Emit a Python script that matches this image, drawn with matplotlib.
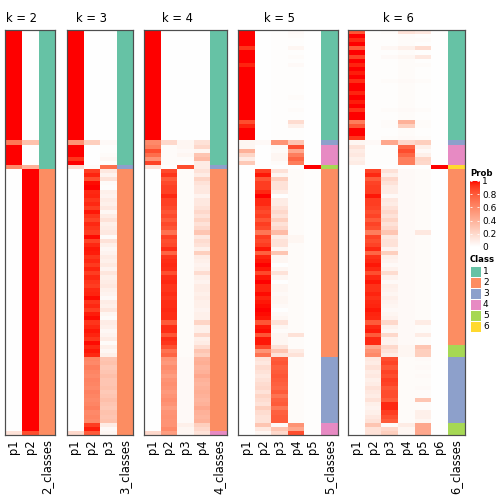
import numpy as np
import matplotlib
matplotlib.use("Agg")
import matplotlib.pyplot as plt
from matplotlib.colors import ListedColormap
from matplotlib.patches import Rectangle

plt.rcParams['font.family'] = ['DejaVu Sans']

# ---- membership probabilities, 99 samples, rows in plotted order ----
# k = 2
k2_p1 = [1.0]*27 + [0.68] + [1.0]*5 + [0.6] + [0.0]*64 + [0.15]
k2_p2 = [0.0]*27 + [0.32] + [0.0]*5 + [0.4] + [1.0]*64 + [0.85]
k2_cls = [1]*34 + [2]*65

# k = 3
k3_p1 = [1.0]*27 + [0.55] + [1.0, 1.0, 1.0, 0.92, 1.0] + [0.18] + [0.0]*64 + [0.2]
k3_p2 = ([0.0]*27 + [0.25] + [0.0]*5 + [0.02]
         + [0.9, 0.96, 0.85, 0.99, 1.0, 0.95, 0.96, 0.92, 0.95, 0.9, 0.98, 0.92, 0.88, 0.95, 0.92, 0.9,
            0.99, 0.88, 0.95, 0.98, 0.97, 0.92, 0.95, 0.91, 0.96, 0.9, 0.95, 0.92, 0.9, 0.95, 0.96, 0.99,
            0.92, 0.95, 0.9, 0.97, 0.99, 0.92, 0.95, 0.98, 0.96, 0.92, 0.99, 0.95, 0.98, 0.95]
         + [0.62, 0.6, 0.65, 0.62, 0.6, 0.63, 0.62, 0.6, 0.64, 0.62, 0.6, 0.62, 0.65, 0.6, 0.62, 0.6]
         + [0.9, 0.97, 0.8])
k3_p3 = ([0.0]*27 + [0.03] + [0.01, 0.01, 0.02, 0.04, 0.01] + [0.72]
         + [0.12, 0.06, 0.15, 0.02, 0.01, 0.08, 0.06, 0.1, 0.08, 0.12, 0.04, 0.1, 0.15, 0.08, 0.1, 0.12,
            0.02, 0.15, 0.08, 0.04, 0.06, 0.1, 0.08, 0.11, 0.06, 0.13, 0.08, 0.1, 0.12, 0.08, 0.06, 0.03,
            0.1, 0.08, 0.13, 0.05, 0.02, 0.1, 0.08, 0.04, 0.06, 0.1, 0.02, 0.08, 0.04, 0.08]
         + [0.3, 0.32, 0.28, 0.3, 0.33, 0.3, 0.3, 0.32, 0.28, 0.3, 0.33, 0.3, 0.28, 0.32, 0.3, 0.32]
         + [0.1, 0.03, 0.05])
k3_cls = [1]*33 + [3] + [2]*65

# k = 4
k4_p1 = [1.0]*27 + [0.6] + [0.65, 0.85, 0.72, 0.55, 0.88] + [0.15] + [0.0]*64 + [0.2]
k4_p2 = ([0.0]*27 + [0.2] + [0.02]*5 + [0.0]
         + [0.86, 0.92, 0.8, 0.86, 0.89, 0.89, 0.95, 0.89, 0.89, 0.86, 0.82, 0.86, 0.8, 0.86, 0.82, 0.7,
            0.89, 0.84, 0.86, 0.94, 0.76, 0.92, 0.94, 0.95, 0.94, 0.84, 0.94, 0.95, 0.92, 0.92, 0.94, 0.92,
            0.94, 0.94, 0.95, 0.94, 0.94, 0.8, 0.94, 0.94, 0.82, 0.94, 0.92, 0.84, 0.7, 0.76]
         + [0.55, 0.52, 0.58, 0.55, 0.5, 0.55, 0.57, 0.55, 0.52, 0.55, 0.58, 0.55, 0.5, 0.55, 0.56, 0.55]
         + [0.55, 0.6, 0.5])
k4_p3 = ([0.0]*27 + [0.05] + [0.05, 0.03, 0.05, 0.02, 0.01] + [0.85]
         + [0.02]*46 + [0.03]*16 + [0.08, 0.05, 0.05])
k4_p4 = ([0.0]*27 + [0.15] + [0.2, 0.05, 0.3, 0.35, 0.1] + [0.1]
         + [0.15, 0.1, 0.22, 0.15, 0.12, 0.12, 0.06, 0.12, 0.12, 0.15, 0.2, 0.15, 0.22, 0.15, 0.2, 0.3,
            0.12, 0.18, 0.15, 0.08, 0.25, 0.1, 0.08, 0.06, 0.08, 0.18, 0.08, 0.06, 0.1, 0.1, 0.08, 0.1,
            0.08, 0.08, 0.06, 0.08, 0.08, 0.22, 0.08, 0.08, 0.2, 0.08, 0.1, 0.18, 0.3, 0.25]
         + [0.4, 0.42, 0.38, 0.4, 0.45, 0.4, 0.38, 0.4, 0.42, 0.4, 0.38, 0.4, 0.45, 0.4, 0.38, 0.4]
         + [0.25, 0.2, 0.15])
k4_cls = [1]*33 + [3] + [2]*64 + [4]

# k = 5
k5_p1 = ([1.0, 1.0, 1.0, 1.0, 0.92, 1.0, 1.0, 1.0, 0.96, 1.0, 1.0, 1.0, 1.0, 1.0, 1.0, 1.0,
          1.0, 1.0, 1.0, 1.0, 1.0, 1.0, 0.85, 0.96, 1.0, 1.0, 1.0]
         + [0.05] + [0.05, 0.4, 0.22, 0.1, 0.28] + [0.0] + [0.0]*65)
k5_p2 = ([0.0]*27 + [0.03] + [0.0]*5 + [0.0]
         + [0.9, 0.98, 0.82, 0.9, 0.9, 0.95, 1.0, 0.95, 0.95, 0.9, 0.86, 0.9, 0.82, 0.9, 0.86, 0.68,
            0.9, 0.86, 0.9, 0.98, 0.78, 0.96, 0.98, 1.0, 0.98, 0.86, 0.98, 1.0, 0.96, 0.96, 0.99, 0.96,
            0.98, 0.99, 1.0, 0.99, 0.98, 0.82, 0.98, 0.99, 0.82, 0.98, 0.98, 0.86, 0.55, 0.7]
         + [0.15, 0.12, 0.18, 0.15, 0.12, 0.15, 0.18, 0.2, 0.15, 0.22, 0.18, 0.15, 0.25, 0.18, 0.15, 0.15]
         + [0.3, 0.12, 0.05])
k5_p3 = ([0.01]*27 + [0.55] + [0.03, 0.02, 0.05, 0.05, 0.02] + [0.0]
         + [0.15, 0.05, 0.25, 0.15, 0.15, 0.1, 0.0, 0.1, 0.1, 0.15, 0.2, 0.15, 0.25, 0.15, 0.2, 0.35,
            0.1, 0.15, 0.15, 0.05, 0.3, 0.05, 0.05, 0.0, 0.05, 0.15, 0.05, 0.0, 0.05, 0.05, 0.03, 0.05,
            0.05, 0.03, 0.0, 0.03, 0.05, 0.15, 0.05, 0.02, 0.05, 0.05, 0.05, 0.15, 0.3, 0.15]
         + [0.8, 0.82, 0.78, 0.8, 0.82, 0.8, 0.78, 0.75, 0.8, 0.7, 0.78, 0.8, 0.68, 0.78, 0.8, 0.8]
         + [0.03, 0.3, 0.2])
k5_p4 = ([0.03, 0.02, 0.01, 0.01, 0.05, 0.01, 0.02, 0.01, 0.03, 0.01, 0.01, 0.01, 0.01, 0.01, 0.01, 0.01,
          0.02, 0.01, 0.01, 0.02, 0.01, 0.01, 0.18, 0.08, 0.01, 0.01, 0.01]
         + [0.3] + [0.85, 0.45, 0.65, 0.75, 0.65] + [0.0]
         + [0.02]*16 + [0.05, 0.05] + [0.02]*22 + [0.15] + [0.02]*3 + [0.1, 0.15]
         + [0.02]*16 + [0.55, 0.45, 0.85])
k5_p5 = [0.0]*33 + [1.0] + [0.01]*65
k5_cls = [1]*27 + [3] + [4]*5 + [5] + [2]*46 + [3]*16 + [4]*3

# k = 6
k6_p1 = ([0.82, 1.0, 0.95, 1.0, 0.8, 1.0, 0.88, 1.0, 0.96, 1.0, 0.97, 1.0, 0.94, 1.0, 1.0, 0.96,
          1.0, 0.97, 1.0, 0.93, 1.0, 1.0, 0.66, 0.82, 1.0, 1.0, 0.92]
         + [0.05] + [0.15, 0.1, 0.12, 0.08, 0.1] + [0.0] + [0.0]*65)
k6_p2 = ([0.01]*27 + [0.03] + [0.01]*5 + [0.0]
         + [0.88, 0.95, 0.8, 0.88, 0.9, 0.9, 0.98, 0.9, 0.9, 0.88, 0.84, 0.88, 0.8, 0.88, 0.84, 0.65,
            0.88, 0.84, 0.88, 0.95, 0.75, 0.93, 0.95, 0.98, 0.95, 0.84, 0.95, 0.98, 0.93, 0.93, 0.96, 0.93,
            0.95, 0.96, 0.98, 0.96, 0.95, 0.8, 0.95, 0.97, 0.8, 0.95, 0.95]
         + [0.45, 0.55, 0.6]
         + [0.12, 0.1, 0.15, 0.1, 0.12, 0.08, 0.1, 0.15, 0.12, 0.1, 0.15, 0.08, 0.06, 0.08, 0.12, 0.15]
         + [0.3, 0.15, 0.15])
k6_p3 = ([0.02, 0.01, 0.01, 0.01, 0.04, 0.01, 0.03, 0.01, 0.01, 0.01, 0.01, 0.01, 0.02, 0.01, 0.01, 0.01,
          0.01, 0.01, 0.01, 0.02, 0.01, 0.01, 0.02, 0.02, 0.01, 0.01, 0.02]
         + [0.45] + [0.01]*5 + [0.0]
         + [0.15, 0.08, 0.2, 0.15, 0.1, 0.1, 0.03, 0.12, 0.1, 0.15, 0.2, 0.15, 0.22, 0.15, 0.2, 0.3,
            0.12, 0.15, 0.15, 0.06, 0.25, 0.08, 0.06, 0.03, 0.07, 0.18, 0.06, 0.03, 0.08, 0.07, 0.05, 0.08,
            0.06, 0.05, 0.03, 0.05, 0.07, 0.2, 0.07, 0.04, 0.2, 0.07, 0.06]
         + [0.2, 0.15, 0.1]
         + [0.85, 0.88, 0.82, 0.88, 0.85, 0.9, 0.88, 0.82, 0.85, 0.85, 0.8, 0.95, 0.95, 0.9, 0.85, 0.8]
         + [0.02, 0.2, 0.25])
k6_p4 = ([0.15, 0.02, 0.02, 0.02, 0.08, 0.02, 0.05, 0.02, 0.02, 0.02, 0.02, 0.02, 0.03, 0.02, 0.02, 0.02,
          0.02, 0.02, 0.02, 0.03, 0.02, 0.02, 0.4, 0.25, 0.02, 0.02, 0.03]
         + [0.2] + [0.75, 0.85, 0.75, 0.65, 0.65] + [0.0]
         + [0.03]*43 + [0.05]*3 + [0.02]*16 + [0.1, 0.05, 0.05])
k6_p5 = ([0.12, 0.01, 0.02, 0.01, 0.18, 0.01, 0.12, 0.01, 0.02, 0.01, 0.01, 0.01, 0.02, 0.01, 0.01, 0.01,
          0.01, 0.01, 0.01, 0.02, 0.01, 0.01, 0.02, 0.02, 0.01, 0.01, 0.02]
         + [0.25] + [0.08, 0.03, 0.08, 0.22, 0.2] + [0.0]
         + [0.02]*15 + [0.12] + [0.02]*21 + [0.1] + [0.02]*2 + [0.1] + [0.02]*2
         + [0.3, 0.25, 0.25]
         + [0.03, 0.02, 0.03, 0.02, 0.03, 0.02, 0.02, 0.03, 0.02, 0.02, 0.3, 0.02, 0.02, 0.08, 0.08, 0.05]
         + [0.45, 0.45, 0.45])
k6_p6 = [0.0]*33 + [1.0] + [0.0]*65
k6_cls = [1]*27 + [3] + [4]*5 + [6] + [2]*43 + [5]*3 + [3]*16 + [5]*3

class_labels = ['1', '2', '3', '4', '5', '6']
class_colors = ['#66C2A5', '#FC8D62', '#8DA0CB', '#E78AC3', '#A6D854', '#FFD92F']
prob_ticks = [0, 0.2, 0.4, 0.6, 0.8, 1]

panels = [
    (2, [k2_p1, k2_p2], k2_cls),
    (3, [k3_p1, k3_p2, k3_p3], k3_cls),
    (4, [k4_p1, k4_p2, k4_p3, k4_p4], k4_cls),
    (5, [k5_p1, k5_p2, k5_p3, k5_p4, k5_p5], k5_cls),
    (6, [k6_p1, k6_p2, k6_p3, k6_p4, k6_p5, k6_p6], k6_cls),
]
for k, cols, cls in panels:
    lens = [len(c) for c in cols] + [len(cls)]
    if len(set(lens)) != 1:
        print('length mismatch', k, lens)


def white_red_lab(n=256):
    # white -> red interpolated in CIELAB
    t = np.linspace(0, 1, n)[:, None]
    lab = np.array([100.0, 0.0, 0.0]) * (1 - t) + np.array([53.24, 80.09, 67.20]) * t
    L, a, b = lab.T
    fy = (L + 16) / 116
    fx = fy + a / 500
    fz = fy - b / 200

    def finv(f):
        return np.where(f ** 3 > 0.008856, f ** 3, (f - 16 / 116) / 7.787)

    xyz = np.stack([0.95047 * finv(fx), finv(fy), 1.08883 * finv(fz)], 1)
    m = np.array([[3.2406, -1.5372, -0.4986],
                  [-0.9689, 1.8758, 0.0415],
                  [0.0557, -0.2040, 1.0570]])
    rgb = np.clip(xyz @ m.T, 0, 1)
    rgb = np.where(rgb <= 0.0031308, 12.92 * rgb, 1.055 * rgb ** (1 / 2.4) - 0.055)
    return ListedColormap(np.clip(rgb, 0, 1))


prob_cmap = white_red_lab()
class_cmap = ListedColormap(class_colors)

W = H = 504
fig = plt.figure(figsize=(7, 7), dpi=72)


def px_axes(x0, y0, x1, y1):
    return fig.add_axes([x0 / W, 1 - y1 / H, (x1 - x0) / W, (y1 - y0) / H])


panel_left = [5.3, 66.7, 144.0, 238.3, 348.3]
col_w = 16.6
top, bottom = 30, 435

for (k, cols, cls), left in zip(panels, panel_left):
    ax = px_axes(left, top, left + (k + 1) * col_w, bottom)
    prob = np.array(cols).T
    n = prob.shape[0]
    ax.imshow(prob, cmap=prob_cmap, vmin=0, vmax=1, aspect='auto',
              interpolation='nearest', extent=(-0.5, k - 0.5, n - 0.5, -0.5))
    ax.imshow(np.array(cls)[:, None], cmap=class_cmap, vmin=0.5, vmax=6.5, aspect='auto',
              interpolation='nearest', extent=(k - 0.5, k + 0.5, n - 0.5, -0.5))
    ax.set_xlim(-0.5, k + 0.5)
    ax.set_ylim(n - 0.5, -0.5)
    ax.set_xticks(range(k + 1))
    ax.set_xticklabels(['p%d' % (i + 1) for i in range(k)] + ['%d_classes' % k],
                       rotation=90, fontsize=11.5)
    ax.tick_params(length=0, pad=4)
    ax.set_yticks([])
    for s in ax.spines.values():
        s.set_color('#4d4d4d')
        s.set_linewidth(1.2)
    fig.text((left + k * col_w / 2) / W, 1 - 18 / H, 'k = %d' % k,
             ha='center', va='center', fontsize=11.5)

# Prob colour bar
fig.text(470 / W, 1 - 173 / H, 'Prob', fontsize=8.5, fontweight='bold', ha='left', va='center')
cax = px_axes(470, 181, 479, 247)
grad = np.linspace(1, 0, 200)[:, None]
cax.imshow(grad, cmap=prob_cmap, vmin=0, vmax=1, aspect='auto', extent=(0, 1, 0, 1))
cax.set_xticks([])
cax.set_yticks(prob_ticks)
cax.set_yticklabels(['0', '0.2', '0.4', '0.6', '0.8', '1'], fontsize=9)
cax.tick_params(axis='y', direction='in', color='white', length=2, left=True, right=True,
                labelleft=False, labelright=True, pad=3)
for s in cax.spines.values():
    s.set_visible(False)

# Class legend
fig.text(470 / W, 1 - 259 / H, 'Class', fontsize=8.5, fontweight='bold', ha='left', va='center')
lax = px_axes(465, 262, 504, 335)
lax.set_xlim(465, 504)
lax.set_ylim(335, 262)
lax.axis('off')
for i, (lab, colr) in enumerate(zip(class_labels, class_colors)):
    y0 = 266 + 11 * i
    lax.add_patch(Rectangle((470.5, y0 + 0.5), 10, 10, facecolor=colr, edgecolor='none'))
    lax.text(483, y0 + 5.5, lab, fontsize=9, ha='left', va='center')

fig.savefig('out.png', dpi=72)
